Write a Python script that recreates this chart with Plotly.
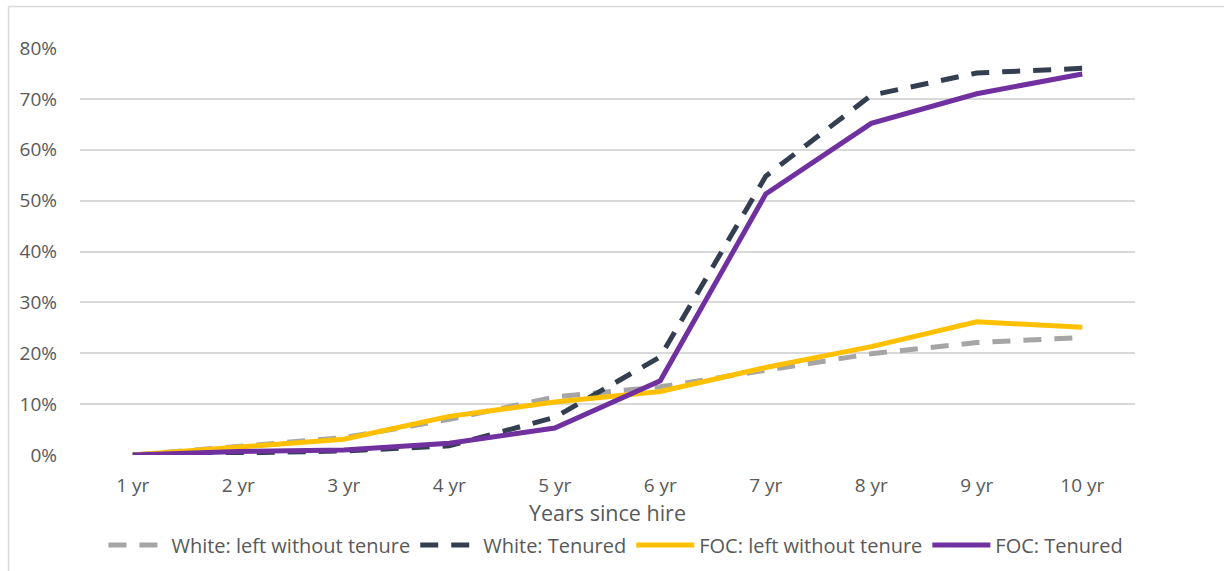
import plotly.graph_objects as go

categories = ["1 yr", "2 yr", "3 yr", "4 yr", "5 yr", "6 yr", "7 yr", "8 yr", "9 yr", "10 yr"]
white_left = [0.0, 0.018, 0.034, 0.070, 0.114, 0.134, 0.166, 0.199, 0.221, 0.231]
white_tenured = [0.0, 0.003, 0.008, 0.018, 0.074, 0.193, 0.548, 0.707, 0.751, 0.760]
foc_left = [0.0, 0.016, 0.031, 0.076, 0.104, 0.125, 0.172, 0.213, 0.262, 0.251]
foc_tenured = [0.0, 0.007, 0.010, 0.023, 0.053, 0.146, 0.513, 0.652, 0.710, 0.749]
y_ticks = [0, 0.1, 0.2, 0.3, 0.4, 0.5, 0.6, 0.7, 0.8]

FONT = "Open Sans"
TXT = "#595959"

fig = go.Figure()
series = [
    ("White: left without tenure", white_left, "#A5A5A5", "18px,13px"),
    ("White: Tenured", white_tenured, "#333F50", "18px,13px"),
    ("FOC: left without tenure", foc_left, "#FFC000", "solid"),
    ("FOC: Tenured", foc_tenured, "#7030A0", "solid"),
]
for name, vals, color, dash in series:
    fig.add_trace(go.Scatter(
        x=categories, y=vals, name=name, mode="lines",
        line=dict(color=color, width=5, dash=dash),
    ))

# plot area: left 80, right 1135, top 48, bottom 455
L, R, T, B = 80, 1135, 48, 455
W, H = R - L, B - T

fig.update_layout(
    width=1224, height=571,
    margin=dict(l=L, r=1224 - R, t=T, b=571 - B, autoexpand=False),
    paper_bgcolor="white", plot_bgcolor="white",
    font=dict(family=FONT, color=TXT, size=19),
    showlegend=True,
    legend=dict(
        orientation="h", x=0.508, xanchor="center", y=-(545 - B) / H, yanchor="middle",
        font=dict(size=20, color=TXT, family=FONT), itemwidth=58,
        traceorder="normal",
    ),
    xaxis=dict(
        type="category", range=[-0.5, 9.5], showgrid=False, zeroline=False, showline=False,
        ticks="", tickfont=dict(size=19, color=TXT), ticklabelstandoff=17,
        title=dict(text="Years since hire", font=dict(size=21.5, color=TXT), standoff=2),
        fixedrange=True,
    ),
    yaxis=dict(
        range=[0, 0.8], tickvals=y_ticks, tickformat=".0%",
        showgrid=True, gridcolor="#D9D9D9", gridwidth=1.5,
        zeroline=False, showline=False, ticks="",
        tickfont=dict(size=19, color=TXT), ticklabelstandoff=22,
        fixedrange=True,
    ),
    shapes=[
        dict(type="line", xref="paper", yref="paper",
             x0=(8.5 - L) / W, x1=(1224 - L) / W, y0=1 + (T - 6.5) / H, y1=1 + (T - 6.5) / H,
             line=dict(color="#D9D9D9", width=1.5)),
        dict(type="line", xref="paper", yref="paper",
             x0=(8.5 - L) / W, x1=(8.5 - L) / W, y0=1 + (T - 6.5) / H, y1=-(571 - B) / H,
             line=dict(color="#D9D9D9", width=1.5)),
    ],
)

fig.write_html("out.html")
